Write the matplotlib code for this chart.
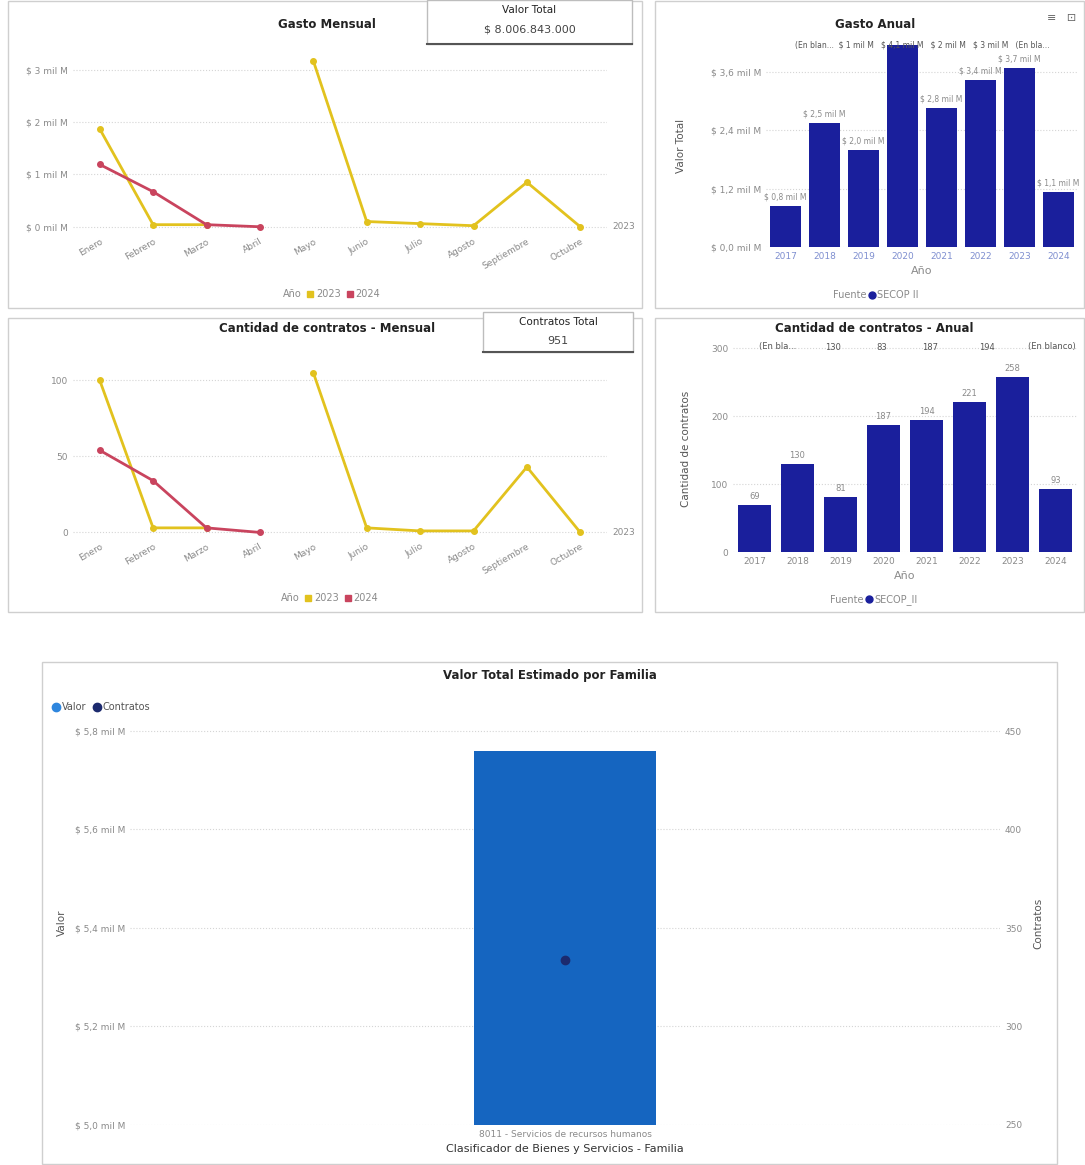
import matplotlib
matplotlib.use('agg')
import matplotlib.pyplot as plt
from matplotlib.patches import Rectangle
from matplotlib.lines import Line2D
import numpy as np

# ---- data ----
meses = ["Enero", "Febrero", "Marzo", "Abril", "Mayo", "Junio", "Julio",
         "Agosto", "Septiembre", "Octubre"]
gasto_2023 = [1.87, 0.04, 0.04, np.nan, 3.17, 0.10, 0.06, 0.02, 0.85, 0.0]
gasto_2024 = [1.19, 0.67, 0.04, 0.0]
gasto_ticks = [0, 1, 2, 3]
gasto_ticklabels = ["$ 0 mil M", "$ 1 mil M", "$ 2 mil M", "$ 3 mil M"]

contratos_2023 = [100, 3, 3, np.nan, 105, 3, 1, 1, 43, 0]
contratos_2024 = [54, 34, 3, 0]

anios = ["2017", "2018", "2019", "2020", "2021", "2022", "2023", "2024"]
gasto_anual = [0.84, 2.54, 1.99, 4.14, 2.85, 3.43, 3.67, 1.13]
gasto_anual_labels = ["$ 0,8 mil M", "$ 2,5 mil M", "$ 2,0 mil M", "",
                      "$ 2,8 mil M", "$ 3,4 mil M", "$ 3,7 mil M", "$ 1,1 mil M"]
anual_ticks = [0, 1.2, 2.4, 3.6]
anual_ticklabels = ["$ 0,0 mil M", "$ 1,2 mil M", "$ 2,4 mil M", "$ 3,6 mil M"]

contratos_anual = [69, 130, 81, 187, 194, 221, 258, 93]

familia = ["8011 - Servicios de recursos humanos"]
familia_valor = [5.76]
familia_contratos = [334]
valor_ticks = [5.0, 5.2, 5.4, 5.6, 5.8]
valor_ticklabels = ["$ 5,0 mil M", "$ 5,2 mil M", "$ 5,4 mil M", "$ 5,6 mil M", "$ 5,8 mil M"]
contr_ticks = [250, 300, 350, 400, 450]

YELLOW = "#E2C21E"
RED = "#C9445E"
NAVY = "#1A1F9C"
BLUE = "#1565C0"
DOT = "#1C2A6E"
GRAY = "#8a8a8a"

W, H = 1085, 1165
fig = plt.figure(figsize=(W / 100, H / 100), dpi=100)


def box(l, t, r, b):
    return [l / W, 1 - b / H, (r - l) / W, (b - t) / H]


def ftext(x, y, s, **kw):
    kw.setdefault("ha", "center")
    kw.setdefault("va", "center")
    fig.text(x / W, 1 - y / H, s, **kw)


def frame(l, t, r, b, color="#cfcfcf", lw=1.0):
    fig.patches.append(Rectangle((l / W, 1 - b / H), (r - l) / W, (b - t) / H,
                                 transform=fig.transFigure, fill=False,
                                 edgecolor=color, lw=lw))


def clean(ax):
    for s in ax.spines.values():
        s.set_visible(False)
    ax.tick_params(length=0, colors=GRAY, labelsize=6.5)
    ax.grid(axis="y", ls=":", color="#d5d5d5", lw=0.8)
    ax.set_axisbelow(True)


def card(l, t, r, b, title, value):
    fig.patches.append(Rectangle((l / W, 1 - b / H), (r - l) / W, (b - t) / H,
                                 transform=fig.transFigure, facecolor="white",
                                 edgecolor="#bdbdbd", lw=1.0, zorder=5))
    fig.lines.append(Line2D([l / W, r / W], [1 - b / H, 1 - b / H],
                            transform=fig.transFigure, color="#555", lw=1.5, zorder=6))
    ftext((l + r) / 2, t + 10, title, fontsize=7.5, color="#222", zorder=7)
    ftext((l + r) / 2, t + 29, value, fontsize=8, color="#444", zorder=7)


def month_legend(x, y):
    handles = [Line2D([], [], ls="none"),
               Line2D([], [], ls="none", marker="s", ms=5, color=YELLOW),
               Line2D([], [], ls="none", marker="s", ms=5, color=RED)]
    fig.legend(handles, ["Año", "2023", "2024"], loc="center",
               bbox_to_anchor=(x / W, 1 - y / H), ncol=3, frameon=False,
               fontsize=7, handlelength=0.6, handletextpad=0.3,
               columnspacing=0.6, labelcolor=GRAY)


def fuente_legend(x, y, name):
    fig.legend([Line2D([], [], ls="none"),
                Line2D([], [], ls="none", marker="o", ms=5, color=NAVY)],
               ["Fuente", name], loc="center", bbox_to_anchor=(x / W, 1 - y / H),
               ncol=2, frameon=False, fontsize=7, handlelength=0.5,
               handletextpad=0.3, columnspacing=0.3, labelcolor=GRAY)


# panel frames
frame(8, 1, 642, 308)
frame(655, 1, 1084, 308)
frame(8, 318, 642, 612)
frame(655, 318, 1084, 612)
frame(42, 662, 1057, 1164)

# ---- Gasto Mensual ----
x = np.arange(len(meses))
ax1 = fig.add_axes(box(73, 54, 607, 232))
clean(ax1)
ax1.plot(x, gasto_2023, color=YELLOW, lw=2, marker="o", ms=4)
ax1.plot(x[:len(gasto_2024)], gasto_2024, color=RED, lw=2, marker="o", ms=4)
ax1.set_xlim(-0.5, len(meses) - 0.5)
ax1.set_ylim(-0.1, 3.3)
ax1.set_yticks(gasto_ticks)
ax1.set_yticklabels(gasto_ticklabels)
ax1.set_xticks(x)
ax1.set_xticklabels(meses, rotation=30, ha="right", rotation_mode="anchor")
ax1.text(1.01, 0.0, "2023", transform=ax1.get_yaxis_transform(), fontsize=6.5,
         color=GRAY, va="center")
ftext(327, 25, "Gasto Mensual", fontsize=8.5, fontweight="bold", color="#222")
card(427, 0, 632, 44, "Valor Total", "$ 8.006.843.000")
month_legend(327, 294)

# ---- Gasto Anual ----
xa = np.arange(len(anios))
ax2 = fig.add_axes(box(766, 45, 1078, 247))
clean(ax2)
bars = ax2.bar(xa, gasto_anual, width=0.77, color=NAVY)
for b, lab in zip(bars, gasto_anual_labels):
    if lab:
        ax2.text(b.get_x() + b.get_width() / 2, b.get_height() + 0.1, lab,
                 ha="center", va="bottom", fontsize=5.5, color=GRAY)
ax2.set_xlim(-0.5, len(anios) - 0.5)
ax2.set_ylim(0, 4.15)
ax2.set_yticks(anual_ticks)
ax2.set_yticklabels(anual_ticklabels)
ax2.set_xticks(xa)
ax2.set_xticklabels(anios, color="#7f8fd0")
ax2.set_xlabel("Año", fontsize=8, color=GRAY, labelpad=4)
ax2.set_ylabel("Valor Total", fontsize=7.5, color="#555", labelpad=18)
ftext(875, 24, "Gasto Anual", fontsize=8.5, fontweight="bold", color="#222")
ftext(922, 45, "(En blan...  \\$ 1 mil M   \\$ 4,1 mil M   \\$ 2 mil M   \\$ 3 mil M   (En bla...",
      fontsize=5.5, color="#555")
ftext(1062, 18, "≡   ⊡", fontsize=8, color="#666")
fuente_legend(872, 295, "SECOP II")

# ---- Cantidad de contratos - Mensual ----
ax3 = fig.add_axes(box(73, 365, 607, 537))
clean(ax3)
ax3.plot(x, contratos_2023, color=YELLOW, lw=2, marker="o", ms=4)
ax3.plot(x[:len(contratos_2024)], contratos_2024, color=RED, lw=2, marker="o", ms=4)
ax3.set_xlim(-0.5, len(meses) - 0.5)
ax3.set_ylim(-3, 110)
ax3.set_yticks([0, 50, 100])
ax3.set_xticks(x)
ax3.set_xticklabels(meses, rotation=30, ha="right", rotation_mode="anchor")
ax3.text(1.01, 0.0, "2023", transform=ax3.get_yaxis_transform(), fontsize=6.5,
         color=GRAY, va="center")
ftext(327, 329, "Cantidad de contratos - Mensual", fontsize=8.5, fontweight="bold",
      color="#222")
card(483, 312, 633, 352, "Contratos Total", "951")
month_legend(325, 598)

# ---- Cantidad de contratos - Anual ----
ax4 = fig.add_axes(box(733, 346, 1077, 552))
clean(ax4)
bars = ax4.bar(xa, contratos_anual, width=0.77, color=NAVY)
for b, v in zip(bars, contratos_anual):
    ax4.text(b.get_x() + b.get_width() / 2, v + 6, str(v), ha="center",
             va="bottom", fontsize=6, color=GRAY)
ax4.set_xlim(-0.5, len(anios) - 0.5)
ax4.set_ylim(0, 303)
ax4.set_yticks([0, 100, 200, 300])
ax4.set_xticks(xa)
ax4.set_xticklabels(anios)
ax4.set_xlabel("Año", fontsize=8, color=GRAY, labelpad=4)
ax4.set_ylabel("Cantidad de contratos", fontsize=7.5, color="#555", labelpad=14)
ftext(874, 328, "Cantidad de contratos - Anual", fontsize=8.5, fontweight="bold",
      color="#222")
for px, s in zip([778, 833, 882, 930, 987, 1052],
                 ["(En bla...", "130", "83", "187", "194", "(En blanco)"]):
    ftext(px, 347, s, fontsize=6, color="#555")
fuente_legend(870, 600, "SECOP_II")

# ---- Valor Total Estimado por Familia ----
ax5 = fig.add_axes(box(130, 721, 1000, 1125))
clean(ax5)
ax5.bar([0], familia_valor, width=0.21, color=BLUE, bottom=0)
ax5.set_xlim(-0.5, 0.5)
ax5.set_ylim(5.0, 5.82)
ax5.set_yticks(valor_ticks)
ax5.set_yticklabels(valor_ticklabels)
ax5.set_xticks([0])
ax5.set_xticklabels(familia, fontsize=6.5)
ax5.set_xlabel("Clasificador de Bienes y Servicios - Familia", fontsize=8,
               color="#333", labelpad=4)
ax5.set_ylabel("Valor", fontsize=7.5, color="#555", labelpad=6)
ax6 = ax5.twinx()
for s in ax6.spines.values():
    s.set_visible(False)
ax6.tick_params(length=0, colors=GRAY, labelsize=6.5)
ax6.plot([0], familia_contratos, ls="none", marker="o", ms=6, color=DOT)
ax6.set_ylim(250, 455.1)
ax6.set_yticks(contr_ticks)
ax6.set_ylabel("Contratos", fontsize=7.5, color="#555", labelpad=8)
ftext(550, 676, "Valor Total Estimado por Familia", fontsize=8.5, fontweight="bold",
      color="#222")
fig.legend([Line2D([], [], ls="none", marker="o", ms=6, color="#2E86DE"),
            Line2D([], [], ls="none", marker="o", ms=6, color=DOT)],
           ["Valor", "Contratos"], loc="center left",
           bbox_to_anchor=(44 / W, 1 - 707 / H), ncol=2, frameon=False,
           fontsize=7, handlelength=0.6, handletextpad=0.3, columnspacing=0.8,
           labelcolor="#555")

fig.savefig("out.png", dpi=100, facecolor="white")
